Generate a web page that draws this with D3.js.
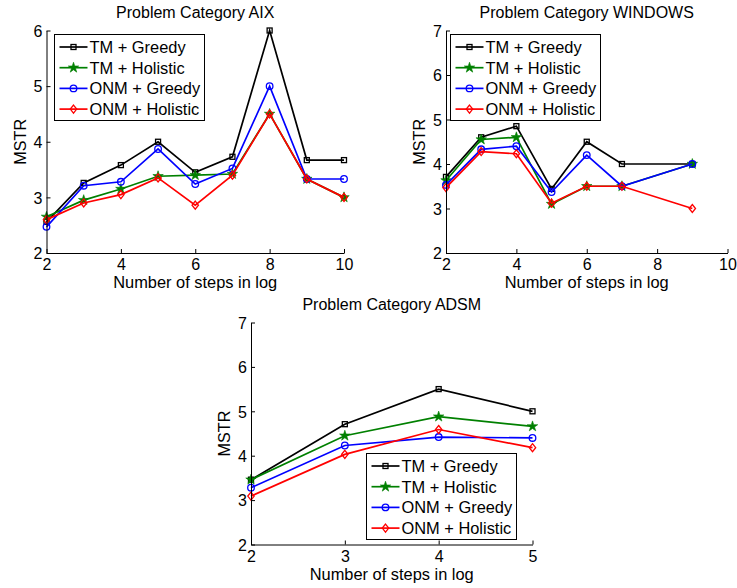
<!DOCTYPE html>
<html>
<head>
<meta charset="utf-8">
<script src="https://cdn.jsdelivr.net/npm/d3@7"></script>
<style>
  body { margin: 0; background: #fff; }
  svg text { font-family: "Liberation Sans", Arial, sans-serif; fill: #000; }
</style>
</head>
<body>
<svg id="chart" width="737" height="588"></svg>
<script>
// MSTR vs number of steps, three problem categories

const seriesNames = ['TM + Greedy', 'TM + Holistic', 'ONM + Greedy', 'ONM + Holistic'];

const aixSteps = [2, 3, 4, 5, 6, 7, 8, 9, 10];
const aixTmGreedy = [2.56, 3.26, 3.58, 4.0, 3.45, 3.73, 6.0, 3.67, 3.67];
const aixTmHolistic = [2.65, 2.95, 3.15, 3.38, 3.4, 3.42, 4.5, 3.33, 3.0];
const aixOnmGreedy = [2.47, 3.21, 3.28, 3.87, 3.24, 3.52, 5.0, 3.33, 3.33];
const aixOnmHolistic = [2.6, 2.9, 3.05, 3.35, 2.86, 3.4, 4.5, 3.33, 3.0];

const winSteps = [2, 3, 4, 5, 6, 7, 9];
const winTmGreedy = [3.71, 4.6, 4.85, 3.44, 4.5, 4.0, 4.0];
const winTmHolistic = [3.63, 4.55, 4.6, 3.1, 3.5, 3.5, 4.0];
const winOnmGreedy = [3.53, 4.33, 4.4, 3.37, 4.2, 3.5, 4.0];
const winOnmHolistic = [3.47, 4.28, 4.23, 3.12, 3.5, 3.5, 3.0];

const adsmSteps = [2, 3, 4, 5];
const adsmTmGreedy = [3.46, 4.71, 5.5, 5.0];
const adsmTmHolistic = [3.46, 4.45, 4.88, 4.66];
const adsmOnmGreedy = [3.28, 4.23, 4.42, 4.4];
const adsmOnmHolistic = [3.09, 4.03, 4.59, 4.18];

const aixXTicks = [2, 4, 6, 8, 10];
const aixYTicks = [2, 3, 4, 5, 6];
const winXTicks = [2, 4, 6, 8, 10];
const winYTicks = [2, 3, 4, 5, 6, 7];
const adsmXTicks = [2, 3, 4, 5];
const adsmYTicks = [2, 3, 4, 5, 6, 7];

const colors = ['#000000', '#008000', '#0000ff', '#ff0000'];
const markers = ['square', 'star', 'circle', 'diamond'];

const svg = d3.select('#chart');

// --- marker drawing ---

function drawMarker(g, kind, color, x, y) {
  if (kind === 'square') {
    g.append('rect').attr('x', x - 2.5).attr('y', y - 2.5).attr('width', 5).attr('height', 5)
      .attr('fill', 'none').attr('stroke', color).attr('stroke-width', 1.3);
  } else if (kind === 'circle') {
    g.append('circle').attr('cx', x).attr('cy', y).attr('r', 3.3)
      .attr('fill', 'none').attr('stroke', color).attr('stroke-width', 1.3);
  } else if (kind === 'diamond') {
    g.append('path').attr('d', `M${x},${y - 4}L${x + 3.2},${y}L${x},${y + 4}L${x - 3.2},${y}Z`)
      .attr('fill', 'none').attr('stroke', color).attr('stroke-width', 1.3);
  } else if (kind === 'star') {
    g.append('path').attr('d', d3.symbol(d3.symbolStar, 34)())
      .attr('transform', `translate(${x},${y})`)
      .attr('fill', color).attr('stroke', color).attr('stroke-width', 0.6);
  }
}

// --- panel ---

function drawPanel(p) {
  const x = d3.scaleLinear().domain(p.xDomain).range([p.left, p.right]);
  const y = d3.scaleLinear().domain(p.yDomain).range([p.bottom, p.top]);
  const g = svg.append('g');

  // lines + markers
  p.series.forEach((vals, i) => {
    const pts = p.steps.map((s, j) => [x(s), y(vals[j])]);
    g.append('path').attr('d', d3.line()(pts))
      .attr('fill', 'none').attr('stroke', colors[i]).attr('stroke-width', 1.7)
      .attr('stroke-linejoin', 'miter');
    pts.forEach(pt => drawMarker(g, markers[i], colors[i], pt[0], pt[1]));
  });

  // axes: left and bottom only, ticks pointing inward
  const fmt = d3.format('d');
  const xAxis = g.append('g').attr('transform', `translate(0,${p.bottom})`)
    .call(d3.axisBottom(x).tickValues(p.xTicks).tickFormat(fmt).tickSize(-4).tickPadding(6).tickSizeOuter(0));
  const yAxis = g.append('g').attr('transform', `translate(${p.left},0)`)
    .call(d3.axisLeft(y).tickValues(p.yTicks).tickFormat(fmt).tickSize(-4).tickPadding(4).tickSizeOuter(0));
  [xAxis, yAxis].forEach(a => {
    a.selectAll('text').style('font-size', '16px').style('font-family', '"Liberation Sans", Arial, sans-serif').attr('fill', '#000');
    a.selectAll('line').attr('stroke', '#000');
    a.select('.domain').attr('stroke', '#000');
  });
  yAxis.selectAll('text').attr('dy', '0.36em');

  const cx = (p.left + p.right) / 2;
  g.append('text').attr('x', cx).attr('y', p.top - 12.5).attr('text-anchor', 'middle')
    .style('font-size', '16px').text(p.title);
  g.append('text').attr('x', cx).attr('y', p.bottom + 35).attr('text-anchor', 'middle')
    .style('font-size', '16.4px').text('Number of steps in log');
  g.append('text').attr('transform', `translate(${p.left - 21},${(p.top + p.bottom) / 2}) rotate(-90)`)
    .attr('text-anchor', 'middle').style('font-size', '16.2px').text('MSTR');

  // legend
  const lg = g.append('g').attr('transform', `translate(${p.legend[0]},${p.legend[1]})`);
  lg.append('rect').attr('x', 0).attr('y', 0).attr('width', 150).attr('height', 86)
    .attr('fill', '#fff').attr('stroke', '#000').attr('stroke-width', 1);
  seriesNames.forEach((name, i) => {
    const ry = 12.5 + i * 20.7;
    lg.append('line').attr('x1', 5).attr('x2', 33).attr('y1', ry).attr('y2', ry)
      .attr('stroke', colors[i]).attr('stroke-width', 1.7);
    drawMarker(lg, markers[i], colors[i], 19, ry);
    lg.append('text').attr('x', 35).attr('y', ry).attr('dy', '0.36em')
      .style('font-size', '16.4px').text(name);
  });
}

drawPanel({
  title: 'Problem Category AIX', left: 46.5, right: 344, top: 30.5, bottom: 253,
  xDomain: [2, 10], yDomain: [2, 6], xTicks: aixXTicks, yTicks: aixYTicks,
  steps: aixSteps, series: [aixTmGreedy, aixTmHolistic, aixOnmGreedy, aixOnmHolistic],
  legend: [54.5, 34.5]
});

drawPanel({
  title: 'Problem Category WINDOWS', left: 446, right: 727.5, top: 30.5, bottom: 253,
  xDomain: [2, 10], yDomain: [2, 7], xTicks: winXTicks, yTicks: winYTicks,
  steps: winSteps, series: [winTmGreedy, winTmHolistic, winOnmGreedy, winOnmHolistic],
  legend: [450.5, 34.5]
});

drawPanel({
  title: 'Problem Category ADSM', left: 251, right: 532.5, top: 322.5, bottom: 544.5,
  xDomain: [2, 5], yDomain: [2, 7], xTicks: adsmXTicks, yTicks: adsmYTicks,
  steps: adsmSteps, series: [adsmTmGreedy, adsmTmHolistic, adsmOnmGreedy, adsmOnmHolistic],
  legend: [366.5, 453.5]
});
</script>
</body>
</html>
